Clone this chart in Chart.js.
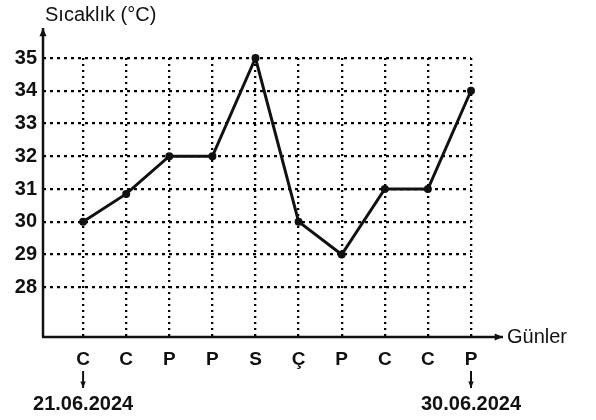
<!DOCTYPE html>
<html>
<head>
<meta charset="utf-8">
<script src="https://cdn.jsdelivr.net/npm/chart.js@4/dist/chart.umd.min.js"></script>
<style>
  body { margin: 0; background: #fff; }
  #grafik { display: block; }
</style>
</head>
<body>
<canvas id="grafik" width="596" height="420"></canvas>
<script>
const gunler = ['C', 'C', 'P', 'P', 'S', 'Ç', 'P', 'C', 'C', 'P'];
const sicakliklar = [30, 30.85, 32, 32, 35, 30, 29, 31, 31, 34];
const sicaklikEtiketleri = [28, 29, 30, 31, 32, 33, 34, 35];
const tarihIndeksleri = [0, 9];
const tarihler = ['21.06.2024', '30.06.2024'];

const yazi = '"Liberation Sans", Arial, sans-serif';
const siyah = '#111';

function ok(ctx, x1, y1, x2, y2, boy) {
    const aci = Math.atan2(y2 - y1, x2 - x1);
    ctx.beginPath();
    ctx.moveTo(x1, y1);
    ctx.lineTo(x2, y2);
    ctx.stroke();
    ctx.beginPath();
    ctx.moveTo(x2, y2);
    ctx.lineTo(x2 - boy * Math.cos(aci - 0.4), y2 - boy * Math.sin(aci - 0.4));
    ctx.lineTo(x2 - boy * Math.cos(aci + 0.4), y2 - boy * Math.sin(aci + 0.4));
    ctx.closePath();
    ctx.fill();
}

const eksenEklentisi = {
    id: 'eksenler',
    afterDraw(chart) {
        const ctx = chart.ctx;
        const alan = chart.chartArea;
        const xs = chart.scales.x;
        ctx.save();
        ctx.strokeStyle = siyah;
        ctx.fillStyle = siyah;
        ctx.lineWidth = 2.5;
        // eksenler ve oklar
        ok(ctx, alan.left, alan.bottom, alan.left, alan.top - 30, 9);
        ok(ctx, alan.left - 1, alan.bottom, alan.right + 32, alan.bottom, 9);

        ctx.font = '20px ' + yazi;
        ctx.textBaseline = 'middle';
        ctx.textAlign = 'left';
        ctx.fillText('Sıcaklık (°C)', alan.left + 2, 15);
        ctx.fillText('Günler', alan.right + 36, alan.bottom);

        // tarih okları
        ctx.lineWidth = 2;
        ctx.textAlign = 'center';
        ctx.font = '600 20px ' + yazi;
        tarihIndeksleri.forEach((i, k) => {
            const x = xs.getPixelForValue(i);
            ok(ctx, x, alan.bottom + 34, x, alan.bottom + 51, 7);
            ctx.fillText(tarihler[k], x, alan.bottom + 67);
        });
        ctx.restore();
    }
};

new Chart(document.getElementById('grafik'), {
    type: 'line',
    data: {
        datasets: [{
            data: sicakliklar.map((v, i) => ({ x: i, y: v })),
            borderColor: siyah,
            borderWidth: 3,
            pointRadius: 2.5,
            pointBackgroundColor: siyah,
            pointBorderColor: siyah,
            tension: 0,
            clip: false
        }]
    },
    options: {
        responsive: false,
        animation: false,
        layout: { padding: { top: 58, right: 125, left: 0, bottom: 0 } },
        plugins: { legend: { display: false }, tooltip: { enabled: false } },
        scales: {
            x: {
                type: 'linear',
                min: -0.93,
                max: gunler.length - 1,
                afterBuildTicks: s => { s.ticks = gunler.map((_, i) => ({ value: i })); },
                afterFit: s => { s.height = 83; },
                ticks: {
                    autoSkip: false,
                    maxRotation: 0,
                    padding: 11,
                    color: siyah,
                    font: { family: yazi, size: 19, weight: 'bold' },
                    callback: v => gunler[v]
                },
                grid: { color: '#000', lineWidth: 2.3, drawTicks: false, borderDash: [2, 4] },
                border: { display: false, dash: [2, 4] }
            },
            y: {
                min: 26.48,
                max: 35,
                afterBuildTicks: s => { s.ticks = sicaklikEtiketleri.map(v => ({ value: v })); },
                afterFit: s => { s.width = 43; },
                ticks: {
                    padding: 6,
                    color: siyah,
                    font: { family: yazi, size: 20, weight: 'bold' }
                },
                grid: { color: '#000', lineWidth: 2.3, drawTicks: false, borderDash: [3, 4] },
                border: { display: false, dash: [3, 4] }
            }
        }
    },
    plugins: [eksenEklentisi]
});
</script>
</body>
</html>
